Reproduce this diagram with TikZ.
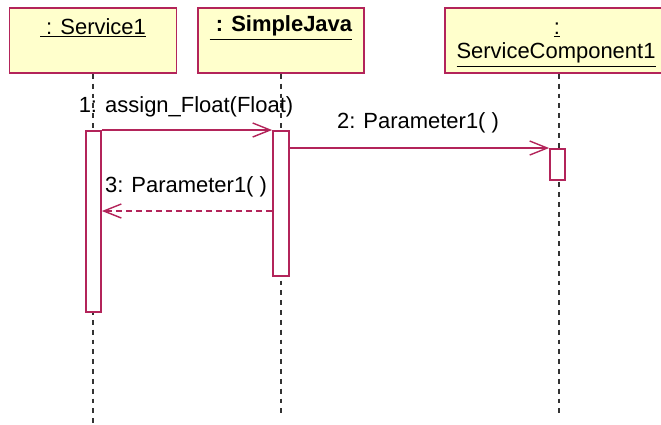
\documentclass[tikz,border=0pt]{standalone}
\usepackage{fontspec}
\setmainfont{Liberation Sans}
\usepackage{xcolor}
\usetikzlibrary{arrows.meta}
\definecolor{framec}{HTML}{B3245A}
\definecolor{boxc}{HTML}{FFFFCC}
\definecolor{lifec}{HTML}{333333}
\tikzset{
  objbox/.style={draw=framec, fill=boxc, line width=1pt, inner sep=0pt},
  objlabel/.style={inner sep=0pt, font=\fontsize{12.5}{15}\selectfont},
  actbar/.style={draw=framec, fill=white, line width=1pt, inner sep=0pt, anchor=north},
  lifeline/.style={draw=lifec, line width=1.1pt, dash pattern=on 2.8pt off 2.8pt},
  msg/.style={draw=framec, line width=0.8pt, -{Straight Barb[length=10pt,width=8pt]}},
  retmsg/.style={msg, dash pattern=on 3.4pt off 2.3pt},
  msglabel/.style={inner sep=0pt, font=\fontsize{12.5}{15}\selectfont},
}
\begin{document}
\begin{tikzpicture}[x=0.02cm, y=-0.02cm]
\useasboundingbox (0,0) rectangle (661,424);
% objects
\node[objbox, minimum width=3.34cm, minimum height=1.30cm] (service) at (93,40.5) {};
\node[objbox, minimum width=3.32cm, minimum height=1.30cm] (simple) at (281,40.5) {};
\node[objbox, minimum width=4.56cm, minimum height=1.30cm] (component) at (559,40.5) {};
\node[objlabel] (servicename) at (93,28) {\underline{\ : Service1}};
\node[objlabel] (simplename) at (281,28) {\underline{\ \textbf{: SimpleJava}}};
\node[objlabel] (componentcolon) at (557,30) {\underline{:}};
\node[objlabel] (componentname) at (556,55) {\underline{ServiceComponent1}};
% lifelines
\coordinate (low) at (0,424);
\coordinate (lower) at (0,413);
\draw[lifeline] (service.south) -- (service.south |- low);
\draw[lifeline] (simple.south) -- (simple.south |- lower);
\draw[lifeline] (component.south) -- (component.south |- lower);
% activations
\node[actbar, minimum width=0.30cm, minimum height=3.62cm] (act1) at (93.5,130) {};
\node[actbar, minimum width=0.32cm, minimum height=2.90cm] (act2) at (281,130) {};
\node[actbar, minimum width=0.30cm, minimum height=0.62cm] (act3) at (557.5,148) {};
% messages
\coordinate (ret) at (0,211);
\draw[msg] (act1.north east) -- (act2.north west);
\draw[msg] (act2.east |- act3.north) -- (act3.north west);
\draw[retmsg] (act2.west |- ret) -- (act1.east |- ret);
\node[msglabel] (m1) at (186,107) {1: assign\_Float(Float)};
\node[msglabel] (m2) at (418,123) {2: Parameter1( )};
\node[msglabel] (m3) at (186,187) {3: Parameter1( )};
\end{tikzpicture}
\end{document}
